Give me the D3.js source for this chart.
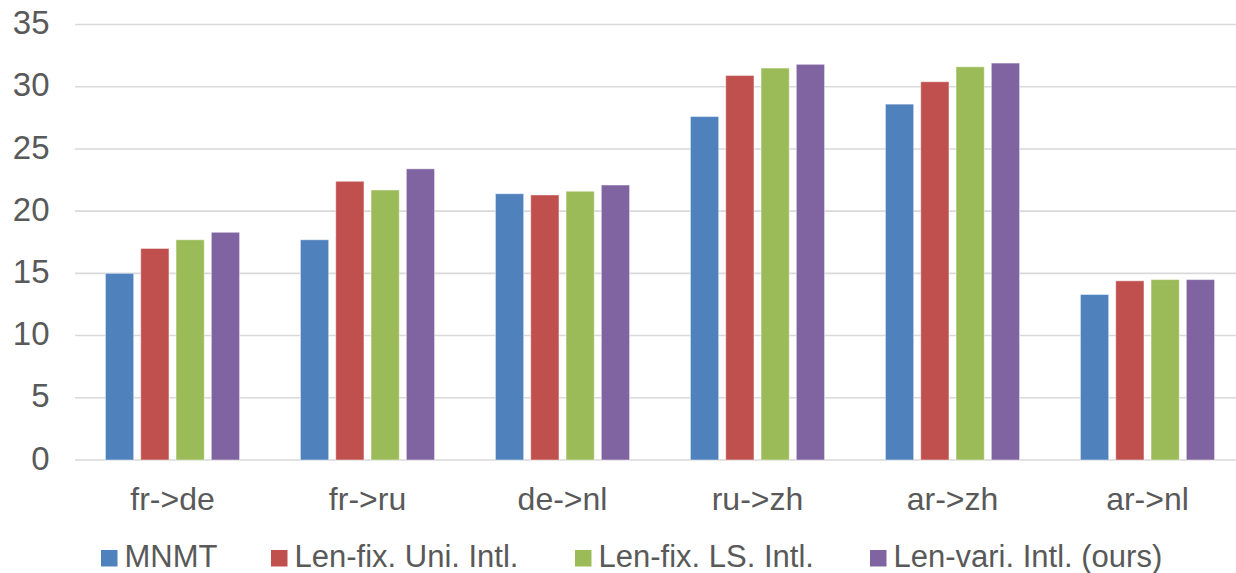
<!DOCTYPE html>
<html>
<head>
<meta charset="utf-8">
<script src="https://cdn.jsdelivr.net/npm/d3@7"></script>
<style>
  html, body { margin: 0; padding: 0; background: #fff; }
  svg { display: block; }
  text { font-family: "Liberation Sans", Arial, sans-serif; fill: #595959; }
</style>
</head>
<body>
<svg id="chart" width="1236" height="573"></svg>
<script>
const categories = ["fr->de", "fr->ru", "de->nl", "ru->zh", "ar->zh", "ar->nl"];
const seriesNames = ["MNMT", "Len-fix. Uni. Intl.", "Len-fix. LS. Intl.", "Len-vari. Intl. (ours)"];
const mnmt      = [15.0, 17.7, 21.4, 27.6, 28.6, 13.3];
const lenFixUni = [17.0, 22.4, 21.3, 30.9, 30.4, 14.4];
const lenFixLS  = [17.7, 21.7, 21.6, 31.5, 31.6, 14.5];
const lenVari   = [18.3, 23.4, 22.1, 31.8, 31.9, 14.5];
const yTicks = [0, 5, 10, 15, 20, 25, 30, 35];
const colors = ["#4F81BD", "#C0504D", "#9BBB59", "#8064A2"];

const seriesValues = [mnmt, lenFixUni, lenFixLS, lenVari];

const svg = d3.select("#chart");
const W = 1236, H = 573;
const plotLeft = 75, plotRight = 1245, plotTop = 24.5, plotBottom = 460;

const x0 = d3.scaleBand().domain(categories).range([plotLeft, plotRight]).padding(0);
const groupHalf = 70.6;
const x1 = d3.scaleBand().domain(seriesNames)
  .range([x0.bandwidth() / 2 - groupHalf, x0.bandwidth() / 2 + groupHalf])
  .paddingInner(0.2).paddingOuter(0.1);
const y = d3.scaleLinear().domain([0, 35]).range([plotBottom, plotTop]);

// gridlines
svg.append("g").selectAll("line").data(yTicks).join("line")
  .attr("x1", plotLeft).attr("x2", W)
  .attr("y1", d => y(d)).attr("y2", d => y(d))
  .attr("stroke", "#D9D9D9").attr("stroke-width", 1.6);

// y tick labels
svg.append("g").selectAll("text").data(yTicks).join("text")
  .attr("text-anchor", "end")
  .attr("x", 49.5)
  .attr("y", d => y(d) + 9.7)
  .style("font-size", "33px")
  .text(d => d);

// bars
const groups = svg.append("g").selectAll("g").data(categories).join("g")
  .attr("transform", c => `translate(${x0(c)},0)`);
groups.selectAll("rect")
  .data((c, ci) => seriesNames.map((s, si) => ({ s, si, v: seriesValues[si][ci] })))
  .join("rect")
  .attr("x", d => x1(d.s))
  .attr("width", x1.bandwidth())
  .attr("y", d => y(d.v))
  .attr("height", d => y(0) - y(d.v))
  .attr("fill", d => colors[d.si])
  .attr("stroke", "#ffffff").attr("stroke-opacity", 0.45).attr("stroke-width", 1);

// x labels
svg.append("g").selectAll("text").data(categories).join("text")
  .attr("text-anchor", "middle")
  .attr("x", c => x0(c) + x0.bandwidth() / 2)
  .attr("y", 510)
  .style("font-size", "32px")
  .text(c => c);

// legend
const legendX = [101, 271, 575, 870];
const leg = svg.append("g").selectAll("g").data(seriesNames).join("g")
  .attr("transform", (s, i) => `translate(${legendX[i]},0)`);
leg.append("rect").attr("x", 0).attr("y", 550).attr("width", 16.5).attr("height", 16.5)
  .attr("fill", (s, i) => colors[i]);
leg.append("text")
  .attr("x", 23.5)
  .attr("y", 567)
  .style("font-size", "31px")
  .text(s => s);
</script>
</body>
</html>
